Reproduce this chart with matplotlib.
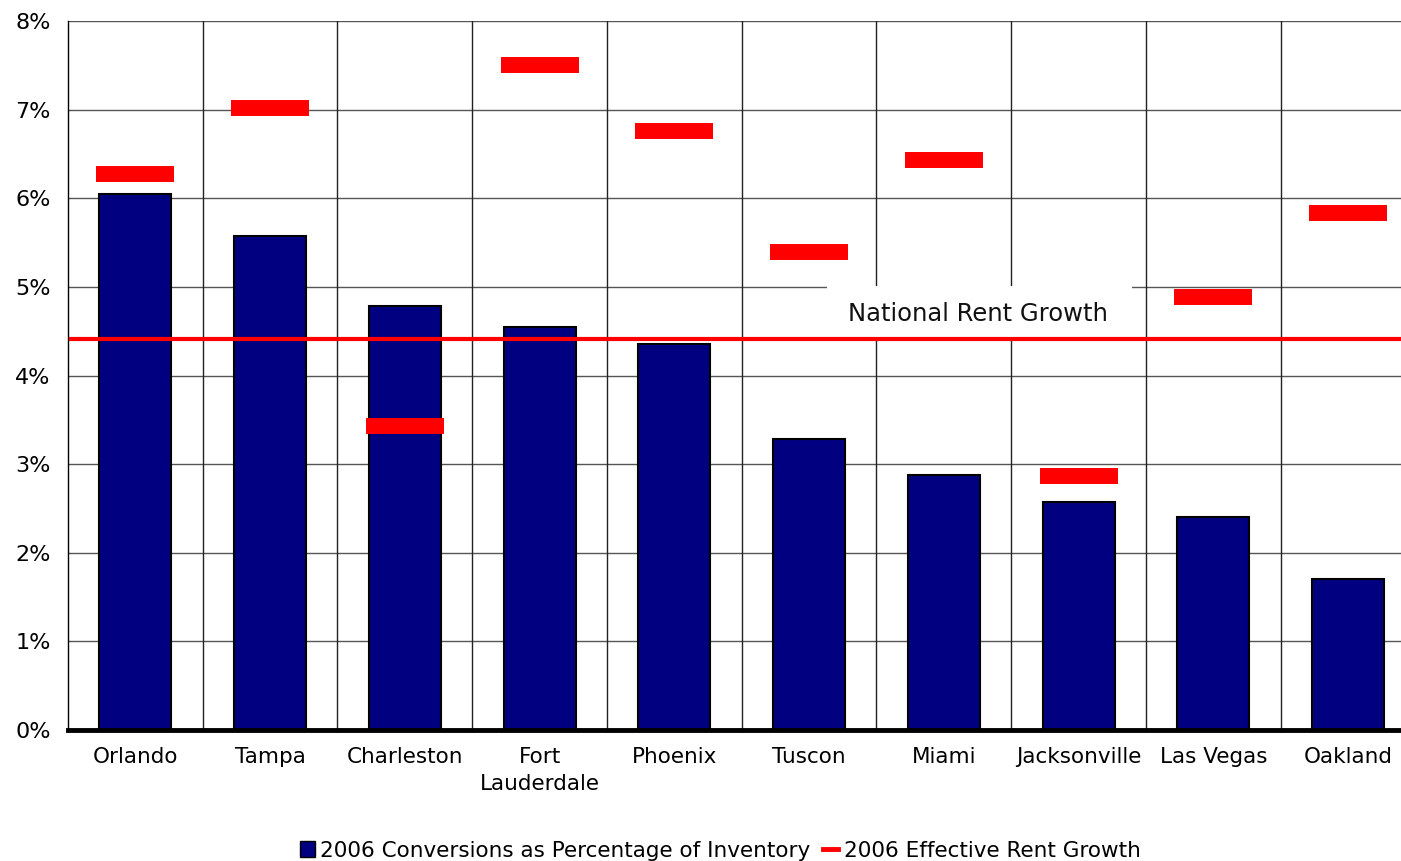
import matplotlib
matplotlib.use("Agg")
from matplotlib import pyplot as plt
from matplotlib.patches import Rectangle, Patch
from matplotlib.lines import Line2D
import numpy as np

CITIES = ["Orlando", "Tampa", "Charleston", "Fort\nLauderdale", "Phoenix",
          "Tuscon", "Miami", "Jacksonville", "Las Vegas", "Oakland"]
CONVERSIONS = [6.05, 5.57, 4.79, 4.55, 4.36, 3.29, 2.88, 2.57, 2.41, 1.71]
RENT_GROWTH = [6.28, 7.02, 3.43, 7.50, 6.76, 5.40, 6.43, 2.87, 4.89, 5.84]
NATIONAL = 4.41
YTICKS = [0, 1, 2, 3, 4, 5, 6, 7, 8]

NAVY = "#000080"
RED = "#ff0000"
plt.rcParams["font.family"] = "DejaVu Sans"

fig = plt.figure(figsize=(14.01, 8.61), dpi=100)
# plot area runs a little past the right edge of the picture (cropped)
ax = fig.add_axes([0.0485, 0.152, 0.9618, 0.8235])

x = np.arange(len(CITIES))

# grid: gray horizontals, dark verticals between categories
for t in YTICKS[1:]:
    ax.axhline(t, color="#555555", lw=1, zorder=0)
for b in x[1:] - 0.5:
    ax.axvline(b, color="#222222", lw=1, zorder=0)

ax.bar(x, CONVERSIONS, width=0.535, color=NAVY, edgecolor="black",
       linewidth=1.5, zorder=2)

# national line + label box
ax.add_patch(Rectangle((5.13, NATIONAL), 2.27, 0.6, facecolor="white",
                       edgecolor="none", zorder=3))
ax.axhline(NATIONAL, color=RED, lw=3, zorder=4, xmin=0.002)
ax.text(6.25, NATIONAL + 0.29, "National Rent Growth", ha="center",
        va="center", fontsize=17.5, color="#111111", zorder=5)

ax.plot(x, RENT_GROWTH, linestyle="none", marker="_", markersize=56,
        markeredgewidth=11.5, color=RED, zorder=6)

ax.set_xlim(-0.5, len(CITIES) - 0.5)
ax.set_ylim(0, 8)
ax.set_xticks(x)
ax.set_xticklabels(CITIES, fontsize=15.5, linespacing=1.45)
ax.set_yticks(YTICKS)
ax.set_yticklabels([f"{t}%" for t in YTICKS], fontsize=16)
ax.tick_params(axis="both", length=0)
ax.tick_params(axis="x", pad=12)
ax.tick_params(axis="y", pad=12.5)

for s in ["top", "right"]:
    ax.spines[s].set_visible(False)
ax.spines["left"].set_linewidth(1)
ax.spines["bottom"].set_linewidth(3.5)
ax.spines["bottom"].set_zorder(7)

handles = [Patch(facecolor=NAVY, edgecolor="black", linewidth=1),
           Line2D([], [], color=RED, lw=3.5)]
fig.legend(handles, ["2006 Conversions as Percentage of Inventory",
                     "2006 Effective Rent Growth"],
           loc="lower center", bbox_to_anchor=(0.514, -0.022), ncol=2,
           frameon=False, fontsize=15.5, handlelength=0.7, handleheight=0.8,
           handletextpad=0.25, columnspacing=0.6)

fig.savefig("out.png", dpi=100)
